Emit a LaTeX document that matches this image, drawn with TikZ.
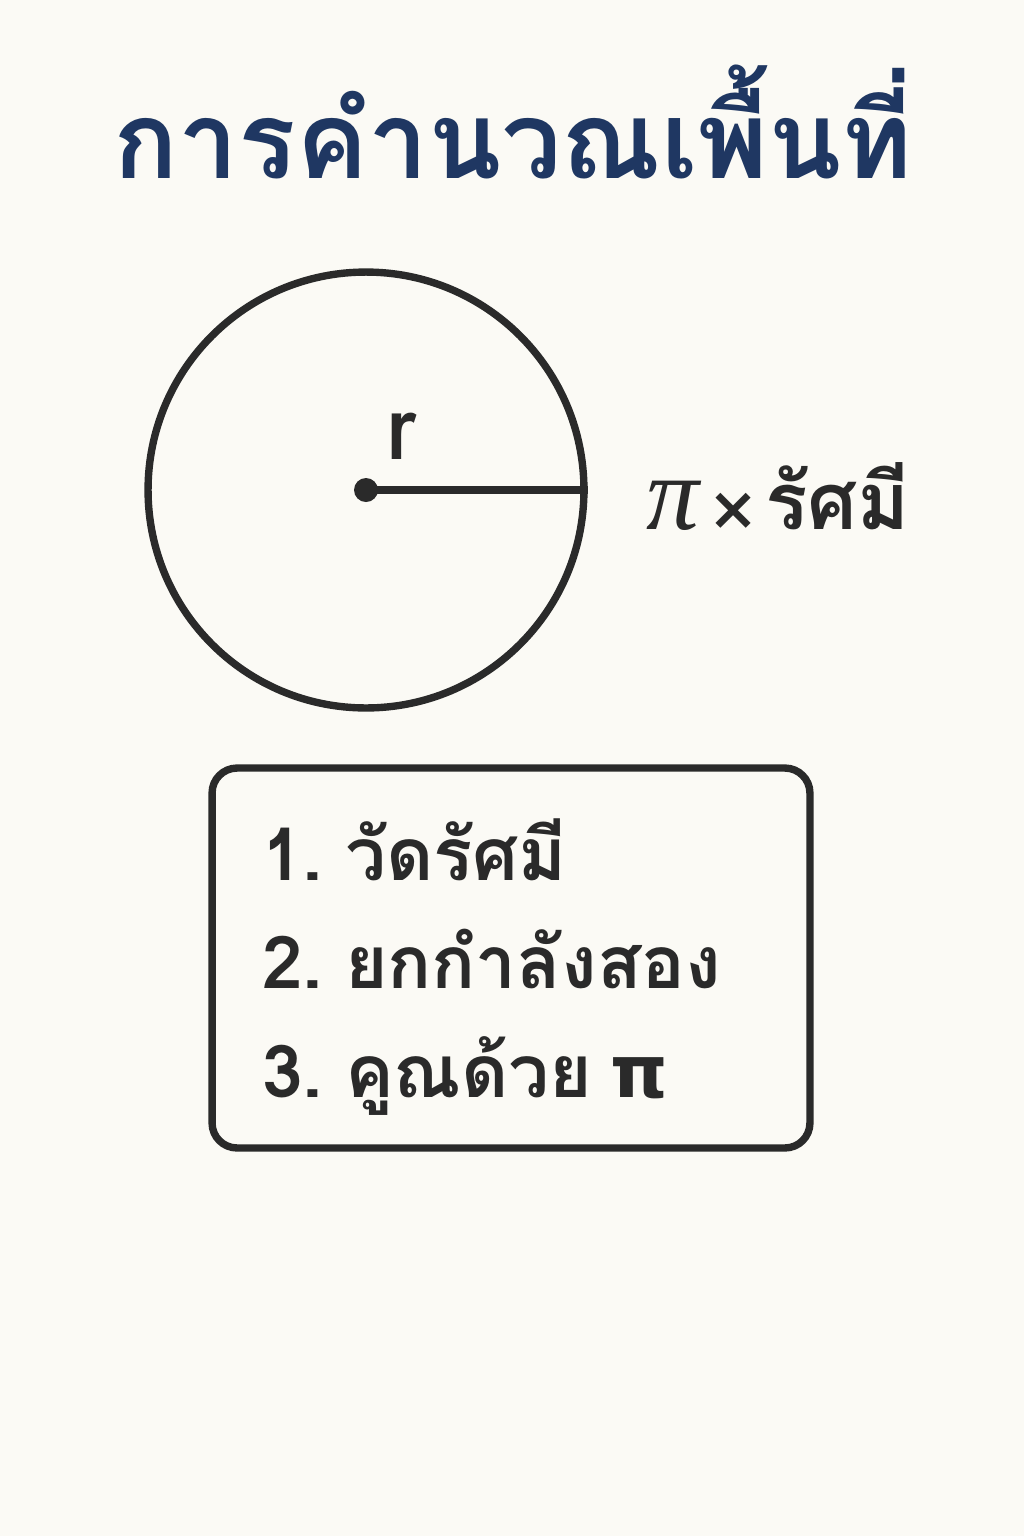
\documentclass[tikz,border=0pt]{standalone}
\usepackage{fontspec}
\newfontfamily\thaifont[Script=Thai]{Loma}
\newfontfamily\dejavu{DejaVu Sans}
\newfontfamily\serifpi{Liberation Serif}
\definecolor{bgc}{HTML}{FBFAF5}
\definecolor{navy}{HTML}{1F3762}
\definecolor{ink}{HTML}{2A2A2A}
\tikzset{
  shapeline/.style={draw=ink, line width=4.2pt},
  steptext/.style={anchor=base west, inner sep=0, text=ink, font=\thaifont\bfseries\fontsize{41.5}{48}\selectfont},
}
\begin{document}
\begin{tikzpicture}[x=0.02cm,y=-0.02cm]
\fill[bgc] (0,0) rectangle (1024,1536);
\useasboundingbox (0,0) rectangle (1024,1536);
\node[anchor=base, inner sep=0, text=navy, font=\thaifont\bfseries\fontsize{61}{68}\selectfont] (title) at (513,178) {การคำนวณเพื้นที่};
\node[shapeline, circle, minimum size=8.72cm, inner sep=0] (circ) at (366,490) {};
\node[circle, fill=ink, minimum size=0.48cm, inner sep=0] (ctr) at (366,490) {};
\draw[shapeline] (ctr.center) -- (circ.east);
\node[anchor=base, inner sep=0, text=ink, font=\thaifont\bfseries\fontsize{50}{56}\selectfont] (r) at (401,459) {r};
\node[anchor=base west, inner sep=0, text=ink, font=\thaifont\bfseries\fontsize{45}{52}\selectfont] (formula) at (646,529) {{\serifpi\mdseries\itshape\fontsize{60}{66}\selectfont π}\hspace{0.12em}{\dejavu\bfseries\fontsize{34}{40}\selectfont×}\hspace{0.08em}รัศมี};
\node[shapeline, rounded corners=0.5cm, minimum width=11.96cm, minimum height=7.6cm] (box) at (511,958) {};
\node[steptext] (s1) at (262,880) {1.\hspace{0.3em}วัดรัศมี};
\node[steptext] (s2) at (262,988) {2.\hspace{0.3em}ยกกำลังสอง};
\node[steptext] (s3) at (262,1097) {3.\hspace{0.3em}คูณด้วย\hspace{0.25em}{\dejavu\bfseries π}};
\end{tikzpicture}
\end{document}
